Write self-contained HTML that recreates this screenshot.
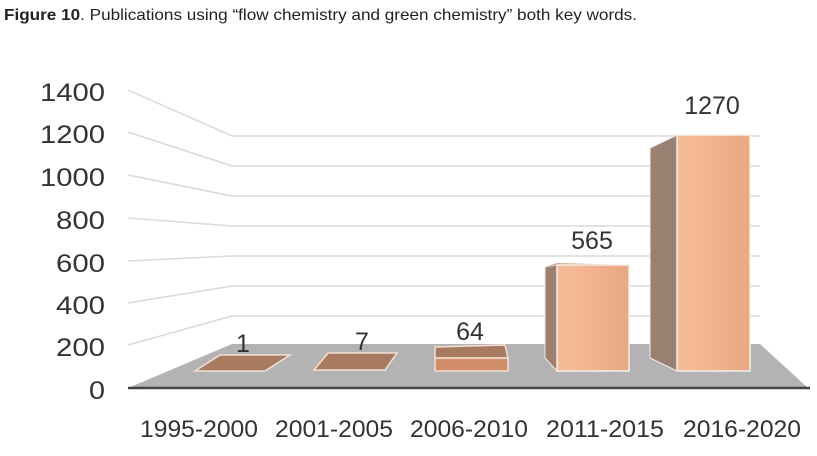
<!DOCTYPE html>
<html><head><meta charset="utf-8"><style>
body{margin:0;background:#fff;width:817px;height:451px;overflow:hidden;font-family:"Liberation Sans",sans-serif}
</style></head><body>
<svg width="817" height="451" xmlns="http://www.w3.org/2000/svg">
<text x="4" y="20" font-size="16" fill="#222" textLength="633" lengthAdjust="spacingAndGlyphs"><tspan font-weight="bold">Figure 10</tspan>. Publications using “flow chemistry and green chemistry” both key words.</text>
<defs>
<linearGradient id="g" x1="0" x2="1"><stop offset="0" stop-color="#f7bd98"/><stop offset="1" stop-color="#e8a882"/></linearGradient>
</defs>
<g stroke="#d9d9d9" stroke-width="1.5" fill="none">
<polyline points="128,90 232,136 760,136"/>
<polyline points="128,132 232,166 760,166"/>
<polyline points="128,175 232,196 760,196"/>
<polyline points="128,218 232,226 760,226"/>
<polyline points="128,261 232,256 760,256"/>
<polyline points="128,303 232,286 760,286"/>
<polyline points="128,345 232,316 760,316"/>
</g>
<polygon points="128,388 232,344 760,344 808,388" fill="#b3b3b3"/>
<line x1="128" y1="388" x2="810" y2="388" stroke="#444" stroke-width="2.5"/>
<g font-size="25" fill="#333">
<text x="40" y="101" textLength="65" lengthAdjust="spacingAndGlyphs">1400</text>
<text x="40" y="143" textLength="65" lengthAdjust="spacingAndGlyphs">1200</text>
<text x="40" y="186" textLength="65" lengthAdjust="spacingAndGlyphs">1000</text>
<text x="56" y="229" textLength="49" lengthAdjust="spacingAndGlyphs">800</text>
<text x="56" y="272" textLength="49" lengthAdjust="spacingAndGlyphs">600</text>
<text x="56" y="314" textLength="49" lengthAdjust="spacingAndGlyphs">400</text>
<text x="56" y="356" textLength="49" lengthAdjust="spacingAndGlyphs">200</text>
<text x="89" y="399" textLength="16" lengthAdjust="spacingAndGlyphs">0</text>
</g>
<polygon points="195,371 265,371 290,355 220,355" fill="#a87b60" stroke="#f2e0d4" stroke-width="1.5"/>
<polygon points="314,370 385,370 397,353 328,353" fill="#a87b60" stroke="#f2e0d4" stroke-width="1.5"/>
<polygon points="435,358 435,347 505,345 508,358" fill="#a87b60" stroke="#f2e0d4" stroke-width="1.5"/>
<rect x="435" y="358" width="73" height="13" fill="#d08d68" stroke="#f2e0d4" stroke-width="1.5"/>
<polygon points="545,267 557,265 557,371 545,358" fill="#9c8070" stroke="#eee" stroke-width="1"/>
<polygon points="545,267 557,263 629,265 557,265" fill="#d9a080"/>
<rect x="557" y="265" width="72" height="106" fill="url(#g)" stroke="#f5efe9" stroke-width="1.5"/>
<polygon points="650,148 677,135 677,371 650,358" fill="#9a8070" stroke="#eee" stroke-width="1"/>
<rect x="677" y="135" width="73" height="236" fill="url(#g)" stroke="#f5efe9" stroke-width="1.5"/>
<g font-size="25" fill="#333" text-anchor="middle">
<text x="243" y="352">1</text><text x="362" y="350">7</text><text x="470" y="340">64</text>
<text x="592" y="249">565</text><text x="712" y="114">1270</text>
</g>
<g font-size="24" fill="#333">
<text x="140" y="437" textLength="118" lengthAdjust="spacingAndGlyphs">1995-2000</text>
<text x="275" y="437" textLength="118" lengthAdjust="spacingAndGlyphs">2001-2005</text>
<text x="410" y="437" textLength="118" lengthAdjust="spacingAndGlyphs">2006-2010</text>
<text x="546" y="437" textLength="118" lengthAdjust="spacingAndGlyphs">2011-2015</text>
<text x="683" y="437" textLength="118" lengthAdjust="spacingAndGlyphs">2016-2020</text>
</g>
</svg>
</body></html>
